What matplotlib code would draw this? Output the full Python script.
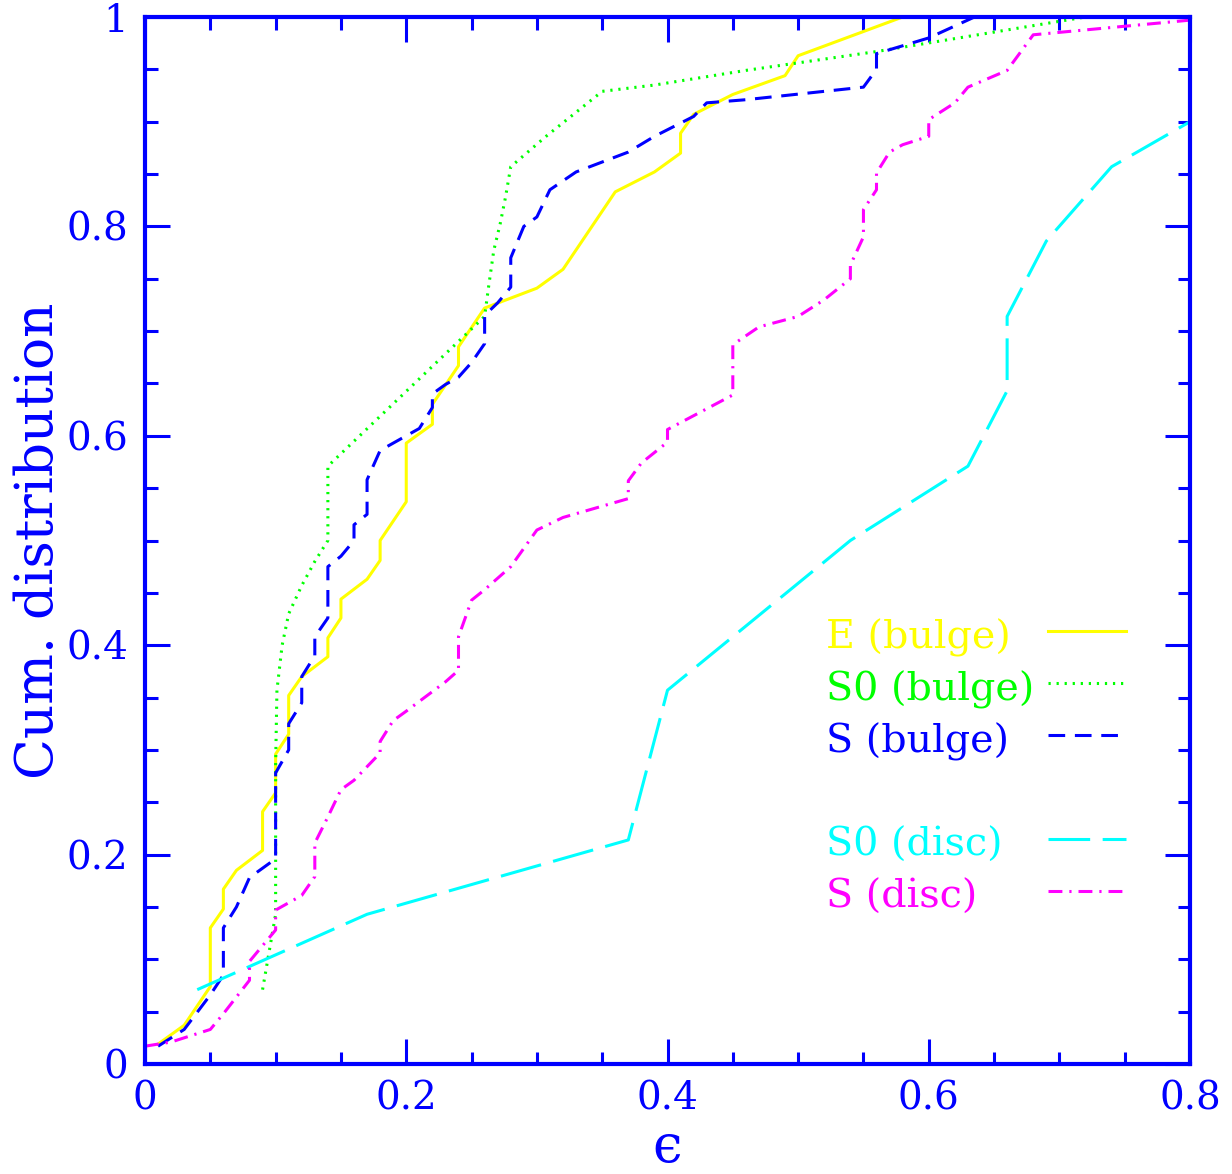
import matplotlib.pyplot as plt
from matplotlib.ticker import MultipleLocator

plt.rcParams['font.family'] = 'DejaVu Serif'
plt.rcParams['lines.scale_dashes'] = False

# cumulative distributions of ellipticity
e_bulge_x = [0.01, 0.03, 0.05, 0.05, 0.06, 0.06, 0.07, 0.09, 0.09, 0.10, 0.10, 0.11, 0.11,
             0.12, 0.14, 0.14, 0.15, 0.15, 0.17, 0.18, 0.18, 0.20, 0.20, 0.22, 0.22, 0.24,
             0.24, 0.26, 0.30, 0.32, 0.36, 0.39, 0.41, 0.41, 0.42, 0.45, 0.49, 0.50, 0.58]
e_bulge_y = [0.019, 0.037, 0.074, 0.130, 0.148, 0.167, 0.185, 0.204, 0.241, 0.259, 0.296,
             0.315, 0.352, 0.370, 0.389, 0.407, 0.426, 0.444, 0.463, 0.481, 0.500, 0.537,
             0.593, 0.611, 0.630, 0.667, 0.685, 0.722, 0.741, 0.759, 0.833, 0.852, 0.870,
             0.889, 0.907, 0.926, 0.944, 0.963, 1.0]

s0_bulge_x = [0.09, 0.10, 0.10, 0.101, 0.105, 0.11, 0.12, 0.13, 0.14, 0.14, 0.26, 0.263,
              0.267, 0.272, 0.276, 0.28, 0.307, 0.35, 0.39, 0.46, 0.56, 0.72]
s0_bulge_y = [0.071, 0.143, 0.286, 0.357, 0.40, 0.43, 0.457, 0.48, 0.50, 0.571, 0.714, 0.742,
              0.777, 0.803, 0.828, 0.857, 0.886, 0.929, 0.935, 0.949, 0.967, 1.0]

s_bulge_x = [0.01, 0.03, 0.05, 0.06, 0.06, 0.07, 0.08, 0.09, 0.10, 0.10, 0.11, 0.11, 0.12,
             0.12, 0.13, 0.13, 0.14, 0.14, 0.15, 0.16, 0.16, 0.17, 0.17, 0.18, 0.20, 0.21,
             0.22, 0.22, 0.23, 0.24, 0.25, 0.26, 0.26, 0.27, 0.28, 0.28, 0.29, 0.30, 0.31,
             0.33, 0.37, 0.39, 0.42, 0.43, 0.46, 0.55, 0.56, 0.56, 0.60, 0.635]
s_bulge_y = [0.017, 0.033, 0.066, 0.085, 0.130, 0.150, 0.178, 0.187, 0.196, 0.278, 0.300,
             0.325, 0.345, 0.370, 0.390, 0.408, 0.426, 0.475, 0.485, 0.500, 0.515, 0.525,
             0.558, 0.586, 0.600, 0.607, 0.627, 0.640, 0.649, 0.656, 0.670, 0.688, 0.715,
             0.727, 0.742, 0.770, 0.800, 0.809, 0.835, 0.852, 0.871, 0.886, 0.905, 0.918,
             0.921, 0.933, 0.950, 0.965, 0.980, 1.0]

s0_disc_x = [0.04, 0.17, 0.37, 0.40, 0.54, 0.63, 0.66, 0.66, 0.69, 0.74, 0.80]
s0_disc_y = [0.071, 0.143, 0.214, 0.357, 0.500, 0.571, 0.643, 0.714, 0.786, 0.857, 0.900]

s_disc_x = [0.00, 0.02, 0.05, 0.06, 0.08, 0.08, 0.10, 0.10, 0.12, 0.13, 0.13, 0.14, 0.15,
            0.16, 0.17, 0.18, 0.18, 0.19, 0.20, 0.23, 0.24, 0.24, 0.25, 0.26, 0.28, 0.30,
            0.32, 0.37, 0.37, 0.38, 0.40, 0.40, 0.45, 0.45, 0.47, 0.50, 0.52, 0.54, 0.54,
            0.55, 0.55, 0.56, 0.56, 0.57, 0.58, 0.60, 0.60, 0.62, 0.63, 0.66, 0.68, 0.80]
s_disc_y = [0.017, 0.021, 0.033, 0.048, 0.080, 0.098, 0.128, 0.147, 0.161, 0.179, 0.211,
            0.236, 0.262, 0.271, 0.284, 0.297, 0.308, 0.328, 0.337, 0.365, 0.376, 0.408,
            0.443, 0.453, 0.475, 0.510, 0.522, 0.540, 0.557, 0.574, 0.594, 0.606, 0.639,
            0.687, 0.704, 0.714, 0.730, 0.750, 0.763, 0.790, 0.816, 0.835, 0.851, 0.871,
            0.878, 0.886, 0.902, 0.918, 0.933, 0.949, 0.983, 0.997]

xtick_vals = [0, 0.2, 0.4, 0.6, 0.8]
xtick_labels = ['0', '0.2', '0.4', '0.6', '0.8']
ytick_vals = [0, 0.2, 0.4, 0.6, 0.8, 1]
ytick_labels = ['0', '0.2', '0.4', '0.6', '0.8', '1']

labels = ['E (bulge)', 'S0 (bulge)', 'S (bulge)', 'S0 (disc)', 'S (disc)']
colors = ['#ffff00', '#00ff00', '#0000ff', '#00ffff', '#ff00ff']
styles = ['-', (0, (1.6, 4.2)), (0, (12, 7)), (0, (30, 9)), (0, (10, 5, 1.6, 5))]
key_rows = [0, 1, 2, 4, 5]   # blank row between bulge and disc keys

BLUE = '#0000ff'
LW = 2.2

fig = plt.figure(figsize=(12.32, 11.74), dpi=100)
ax = fig.add_axes([145 / 1232, 110 / 1174, 1045 / 1232, 1047 / 1174])

series = [(e_bulge_x, e_bulge_y), (s0_bulge_x, s0_bulge_y), (s_bulge_x, s_bulge_y),
          (s0_disc_x, s0_disc_y), (s_disc_x, s_disc_y)]
for (xs, ys), c, ls in zip(series, colors, styles):
    ax.plot(xs, ys, color=c, lw=LW, ls=ls)

# key: label on the left, line sample on the right
for lab, c, ls, row in zip(labels, colors, styles, key_rows):
    yb = 0.3973 - 0.0497 * row
    ax.text(0.652, yb, lab, color=c, fontsize=28.5, ha='left', va='baseline',
            transform=ax.transAxes)
    ax.plot([0.864, 0.939], [yb + 0.0167, yb + 0.0167], color=c, lw=LW, ls=ls,
            transform=ax.transAxes)

ax.set_xlim(0, 0.8)
ax.set_ylim(0, 1)
ax.set_xticks(xtick_vals, xtick_labels)
ax.set_yticks(ytick_vals, ytick_labels)
ax.xaxis.set_minor_locator(MultipleLocator(0.05))
ax.yaxis.set_minor_locator(MultipleLocator(0.05))
ax.tick_params(which='both', direction='in', top=True, right=True, color=BLUE,
               width=2.2, labelcolor=BLUE, labelsize=28, pad=12)
ax.tick_params(which='major', length=18)
ax.tick_params(which='minor', length=9)
for sp in ax.spines.values():
    sp.set_color(BLUE)
    sp.set_linewidth(3)

ax.set_xlabel('\u03f5', color=BLUE, fontsize=38, labelpad=3)
ax.set_ylabel('Cum. distribution', color=BLUE, fontsize=38.5, labelpad=2)

fig.savefig('out.png', dpi=100)
